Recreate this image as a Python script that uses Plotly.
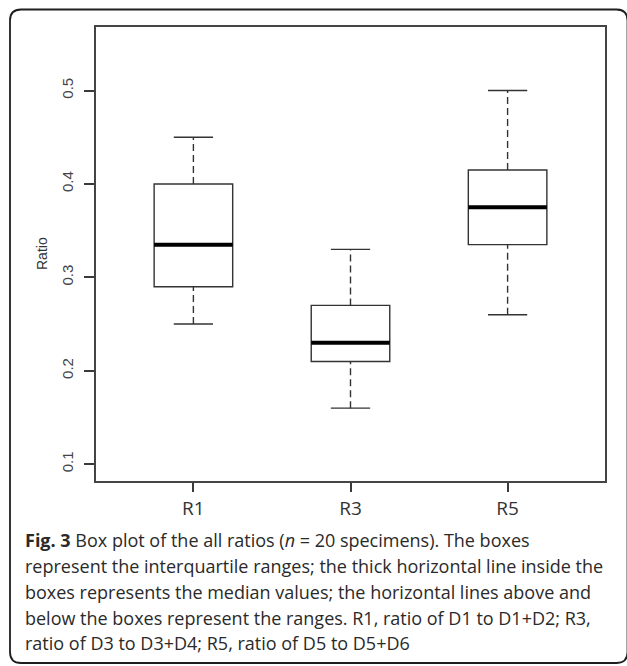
import plotly.graph_objects as go

# ---- data ----
categories = ["R1", "R3", "R5"]
positions = [1, 2, 3]
mins = [0.25, 0.16, 0.26]
q1s = [0.29, 0.21, 0.335]
medians = [0.335, 0.23, 0.375]
q3s = [0.40, 0.27, 0.415]
maxs = [0.45, 0.33, 0.50]
y_ticks = [0.1, 0.2, 0.3, 0.4, 0.5]

caption_lines = [
    "<b>Fig. 3</b> Box plot of the all ratios (<i>n</i> = 20 specimens). The boxes",
    "represent the interquartile ranges; the thick horizontal line inside the",
    "boxes represents the median values; the horizontal lines above and",
    "below the boxes represent the ranges. R1, ratio of D1 to D1+D2; R3,",
    "ratio of D3 to D3+D4; R5, ratio of D5 to D5+D6",
]

W, H = 627, 666
L, R, T, B = 96, 605, 27, 481
BOX_W = 0.5
CAP_W = 0.25

def px2x(px):
    return (px - L) / (R - L)

def px2y(py):
    return (B - py) / (B - T)

fig = go.Figure()

fig.add_trace(go.Box(
    x=positions, q1=q1s, median=medians, q3=q3s,
    lowerfence=q1s, upperfence=q3s,
    width=BOX_W, whiskerwidth=0, boxpoints=False,
    fillcolor="white", line=dict(color="#333333", width=1.4),
    hoverinfo="skip", showlegend=False,
))

# dashed whiskers
wx, wy = [], []
for p, lo, a, b, hi in zip(positions, mins, q1s, q3s, maxs):
    wx += [p, p, None, p, p, None]
    wy += [b, hi, None, lo, a, None]
fig.add_trace(go.Scatter(x=wx, y=wy, mode="lines",
                         line=dict(color="#333333", width=1.4, dash="7px,4px"),
                         hoverinfo="skip", showlegend=False))

# caps
cx, cy = [], []
for p, lo, hi in zip(positions, mins, maxs):
    cx += [p - CAP_W / 2, p + CAP_W / 2, None, p - CAP_W / 2, p + CAP_W / 2, None]
    cy += [hi, hi, None, lo, lo, None]
fig.add_trace(go.Scatter(x=cx, y=cy, mode="lines",
                         line=dict(color="#333333", width=1.4),
                         hoverinfo="skip", showlegend=False))

# thick medians
mx, my = [], []
for p, m in zip(positions, medians):
    mx += [p - BOX_W / 2, p + BOX_W / 2, None]
    my += [m, m, None]
fig.add_trace(go.Scatter(x=mx, y=my, mode="lines",
                         line=dict(color="black", width=4),
                         hoverinfo="skip", showlegend=False))

# rounded outer border (window pixel coordinates)
bl, br, bt, bb, r = 10, 627.5, 9.5, 663, 11
def P(x, y):
    return f"{px2x(x):.5f},{px2y(y):.5f}"
path = (f"M {P(bl + r, bt)} L {P(br - r, bt)} Q {P(br, bt)} {P(br, bt + r)} "
        f"L {P(br, bb - r)} Q {P(br, bb)} {P(br - r, bb)} "
        f"L {P(bl + r, bb)} Q {P(bl, bb)} {P(bl, bb - r)} "
        f"L {P(bl, bt + r)} Q {P(bl, bt)} {P(bl + r, bt)} Z")
fig.add_shape(type="path", path=path, xref="paper", yref="paper",
              line=dict(color="#1e1e1e", width=1.8), fillcolor="rgba(0,0,0,0)",
              layer="below")

# y axis title
fig.add_annotation(text="Ratio", xref="paper", yref="paper",
                   x=px2x(42), y=px2y(254), textangle=-90, showarrow=False,
                   font=dict(family="Liberation Sans, Arial", size=14, color="#333333"),
                   xanchor="center", yanchor="middle")

# caption
cap_y = [540, 566, 592, 618, 643]
for txt, yy in zip(caption_lines, cap_y):
    fig.add_annotation(text=txt, xref="paper", yref="paper",
                       x=px2x(23), y=px2y(yy), showarrow=False,
                       xanchor="left", yanchor="middle", align="left",
                       font=dict(family="Open Sans", size=18, color="#2a2a2a"))

fig.update_layout(
    width=W, height=H,
    margin=dict(l=L, r=W - R, t=T, b=H - B, pad=0),
    paper_bgcolor="white", plot_bgcolor="white",
    showlegend=False,
    xaxis=dict(range=[0.38, 3.62], tickvals=positions, ticktext=categories,
               ticks="outside", ticklen=9, tickwidth=1.6, tickcolor="#3a3a3a",
               showline=True, mirror=True, linecolor="#444444", linewidth=1.6,
               showgrid=False, zeroline=False,
               tickfont=dict(family="Open Sans", size=19, color="#333333")),
    yaxis=dict(range=[0.082, 0.568], tickvals=y_ticks,
               ticktext=[f"{v:.1f}" for v in y_ticks],
               ticks="outside", ticklen=10, tickwidth=1.6, tickcolor="#3a3a3a",
               showline=True, mirror=True, linecolor="#444444", linewidth=1.6,
               showgrid=False, zeroline=False, tickangle=-90,
               ticklabelstandoff=5,
               tickfont=dict(family="Liberation Sans, Arial", size=15, color="#444444")),
)

fig.write_html("out.html",
               config={"displayModeBar": False},
               post_script="document.body.style.margin='0';"
                           "document.body.style.overflow='hidden';")
